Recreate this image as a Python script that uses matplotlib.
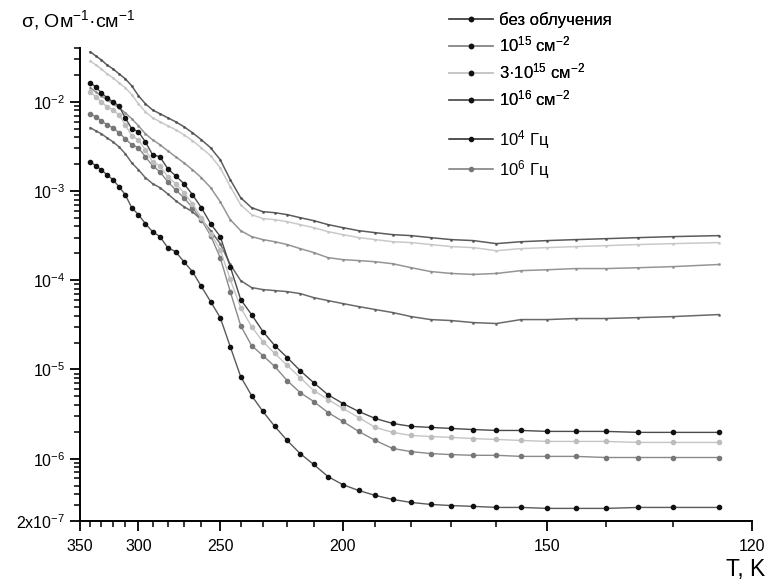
import numpy as np
import matplotlib.pyplot as plt
import matplotlib as mpl
from matplotlib.lines import Line2D

mpl.rcParams.update({
    "font.family": ["Liberation Sans", "DejaVu Sans"],
    "mathtext.default": "regular",
    "font.size": 11,
    "axes.linewidth": 1.4,
    "xtick.direction": "out", "ytick.direction": "out",
})

# температура, К
T = [340, 335, 330, 325, 320, 315, 310, 305, 300, 295, 290, 285, 280, 275, 270,
     265, 260, 255, 250, 245, 240, 235, 230, 225, 220, 215, 210, 205, 200, 195,
     190, 185, 180, 175, 170, 165, 160, 155, 150, 145, 140, 135, 130, 124]

# 10^6 Гц
s_hf_0 = [3.63e-2, 3.27e-2, 2.95e-2, 2.59e-2, 2.34e-2, 2.06e-2, 1.81e-2, 1.51e-2, 1.17e-2, 9.5e-3,
          8.1e-3, 7.34e-3, 6.62e-3, 5.97e-3, 5.25e-3, 4.50e-3, 3.75e-3, 3.05e-3, 2.24e-3, 1.34e-3,
          8.4e-4, 6.5e-4, 5.86e-4, 5.71e-4, 5.43e-4, 5.02e-4, 4.65e-4, 4.20e-4, 3.88e-4, 3.59e-4,
          3.41e-4, 3.24e-4, 3.16e-4, 3.00e-4, 2.85e-4, 2.78e-4, 2.57e-4, 2.70e-4, 2.78e-4, 2.85e-4,
          2.92e-4, 3.00e-4, 3.08e-4, 3.16e-4]
s_hf_3e15 = [2.87e-2, 2.59e-2, 2.34e-2, 2.06e-2, 1.86e-2, 1.63e-2, 1.44e-2, 1.20e-2, 9.5e-3, 7.73e-3,
             6.62e-3, 5.97e-3, 5.39e-3, 4.86e-3, 4.27e-3, 3.66e-3, 3.05e-3, 2.48e-3, 1.82e-3, 1.12e-3,
             7.0e-4, 5.43e-4, 4.90e-4, 4.77e-4, 4.53e-4, 4.20e-4, 3.88e-4, 3.50e-4, 3.24e-4, 3.00e-4,
             2.85e-4, 2.70e-4, 2.64e-4, 2.51e-4, 2.38e-4, 2.32e-4, 2.14e-4, 2.26e-4, 2.32e-4, 2.38e-4,
             2.44e-4, 2.51e-4, 2.57e-4, 2.64e-4]
s_hf_1e15 = [1.44e-2, 1.29e-2, 1.17e-2, 1.05e-2, 9.5e-3, 8.57e-3, 7.53e-3, 6.45e-3, 5.39e-3, 4.38e-3,
             3.75e-3, 3.30e-3, 2.83e-3, 2.42e-3, 2.07e-3, 1.73e-3, 1.41e-3, 1.09e-3, 7.59e-4, 4.77e-4,
             3.59e-4, 3.08e-4, 2.85e-4, 2.70e-4, 2.51e-4, 2.26e-4, 2.04e-4, 1.79e-4, 1.70e-4, 1.66e-4,
             1.61e-4, 1.53e-4, 1.38e-4, 1.25e-4, 1.19e-4, 1.16e-4, 1.19e-4, 1.28e-4, 1.31e-4, 1.35e-4,
             1.35e-4, 1.38e-4, 1.42e-4, 1.50e-4]
s_hf_1e16 = [5.12e-3, 4.73e-3, 4.38e-3, 3.95e-3, 3.56e-3, 3.13e-3, 2.62e-3, 2.07e-3, 1.73e-3, 1.41e-3,
             1.21e-3, 1.09e-3, 9.3e-4, 7.8e-4, 6.67e-4, 5.86e-4, 4.77e-4, 3.59e-4, 2.57e-4, 1.50e-4,
             9.9e-5, 8.27e-5, 7.85e-5, 7.65e-5, 7.45e-5, 7.08e-5, 6.38e-5, 5.91e-5, 5.47e-5, 5.06e-5,
             4.69e-5, 4.34e-5, 3.91e-5, 3.62e-5, 3.53e-5, 3.35e-5, 3.27e-5, 3.62e-5, 3.62e-5, 3.72e-5,
             3.72e-5, 3.81e-5, 3.91e-5, 4.12e-5]

# 10^4 Гц
s_lf_0 = [1.63e-2, 1.47e-2, 1.26e-2, 1.11e-2, 1.00e-2, 9.0e-3, 6.6e-3, 4.99e-3, 4.61e-3, 3.56e-3,
          2.55e-3, 2.42e-3, 1.78e-3, 1.48e-3, 1.21e-3, 9.1e-4, 6.5e-4, 4.31e-4, 3.08e-4, 1.42e-4,
          6.07e-5, 4.12e-5, 2.66e-5, 1.85e-5, 1.36e-5, 9.7e-6, 7.1e-6, 5.2e-6, 4.15e-6, 3.38e-6,
          2.82e-6, 2.48e-6, 2.30e-6, 2.24e-6, 2.18e-6, 2.12e-6, 2.07e-6, 2.07e-6, 2.02e-6, 2.02e-6,
          2.02e-6, 1.97e-6, 1.97e-6, 1.97e-6]
s_lf_3e15 = [1.29e-2, 1.14e-2, 1.00e-2, 8.8e-3, 8.1e-3, 7.15e-3, 5.52e-3, 4.16e-3, 3.75e-3, 2.90e-3,
             2.13e-3, 1.92e-3, 1.45e-3, 1.21e-3, 9.6e-4, 7.2e-4, 5.02e-4, 3.33e-4, 2.20e-4, 1.02e-4,
             4.93e-5, 3.02e-5, 2.05e-5, 1.51e-5, 1.11e-5, 8.1e-6, 5.8e-6, 4.6e-6, 3.65e-6, 2.89e-6,
             2.24e-6, 1.97e-6, 1.82e-6, 1.77e-6, 1.73e-6, 1.68e-6, 1.64e-6, 1.60e-6, 1.56e-6, 1.56e-6,
             1.56e-6, 1.52e-6, 1.52e-6, 1.52e-6]
s_lf_1e15 = [7.34e-3, 6.79e-3, 6.12e-3, 5.52e-3, 5.12e-3, 4.50e-3, 3.85e-3, 3.30e-3, 3.05e-3, 2.42e-3,
             1.92e-3, 1.64e-3, 1.27e-3, 1.03e-3, 8.4e-4, 6.5e-4, 4.77e-4, 3.16e-4, 1.79e-4, 7.45e-5,
             3.10e-5, 1.85e-5, 1.43e-5, 1.08e-5, 7.5e-6, 5.5e-6, 4.37e-6, 3.29e-6, 2.61e-6, 2.02e-6,
             1.60e-6, 1.30e-6, 1.20e-6, 1.14e-6, 1.11e-6, 1.09e-6, 1.09e-6, 1.06e-6, 1.06e-6, 1.06e-6,
             1.03e-6, 1.03e-6, 1.03e-6, 1.03e-6]
s_lf_1e16 = [2.13e-3, 1.92e-3, 1.73e-3, 1.52e-3, 1.34e-3, 1.12e-3, 9.1e-4, 6.5e-4, 5.43e-4, 4.31e-4,
             3.50e-4, 3.08e-4, 2.32e-4, 2.09e-4, 1.61e-4, 1.25e-4, 8.5e-5, 5.76e-5, 3.81e-5, 1.80e-5,
             8.3e-6, 5.1e-6, 3.38e-6, 2.30e-6, 1.60e-6, 1.14e-6, 8.6e-7, 6.3e-7, 5.1e-7, 4.4e-7,
             3.87e-7, 3.49e-7, 3.23e-7, 3.07e-7, 2.98e-7, 2.92e-7, 2.84e-7, 2.84e-7, 2.77e-7, 2.77e-7,
             2.77e-7, 2.84e-7, 2.84e-7, 2.84e-7]

doses = ['без облучения', '10$^{15}$ см$^{-2}$', '3·10$^{15}$ см$^{-2}$', '10$^{16}$ см$^{-2}$']
dose_colors = ['#4a4a4a', '#8a8a8a', '#c4c4c4', '#5a5a5a']
freqs = ['10$^{4}$ Гц', '10$^{6}$ Гц']

x_ticks = [350, 300, 250, 200, 150, 120]
y_ticks = [2e-7, 1e-6, 1e-5, 1e-4, 1e-3, 1e-2]
y_labels = ['2x10$^{-7}$', '10$^{-6}$', '10$^{-5}$', '10$^{-4}$', '10$^{-3}$', '10$^{-2}$']

fig = plt.figure(figsize=(7.69, 5.87), dpi=100)
ax = fig.add_axes([0.104, 0.1124, 0.8739, 0.8058])
ax.set_yscale('log')

# ось абсцисс линейна по 1000/T, подписи в кельвинах
inv = 1000.0 / np.array(T, dtype=float)

hf = [s_hf_0, s_hf_1e15, s_hf_3e15, s_hf_1e16]
lf = [s_lf_0, s_lf_1e15, s_lf_3e15, s_lf_1e16]
lf_marker_colors = ['#111111', '#777777', '#bdbdbd', '#111111']

for s, c in zip(hf, dose_colors):
    ax.plot(inv, s, color=c, lw=1.1, marker='o', ms=1.6, mfc=c, mec=c, mew=0.3, alpha=0.9)
for s, c, mc in zip(lf, dose_colors, lf_marker_colors):
    ax.plot(inv, s, color=c, lw=1.0, marker='o', ms=3.0, mfc=mc, mec=mc)

ax.set_xlim(1000 / 350, 1000 / 120)
ax.set_ylim(2e-7, 4e-2)
ax.set_xticks([1000 / t for t in x_ticks])
ax.set_xticklabels([str(v) for v in x_ticks])
ax.set_xticks([1000 / t for t in range(130, 350, 10) if t not in x_ticks], minor=True)
ax.set_yticks(y_ticks)
ax.set_yticklabels(y_labels)
ax.yaxis.set_minor_locator(mpl.ticker.LogLocator(base=10, subs=np.arange(2, 10)))
ax.yaxis.set_minor_formatter(mpl.ticker.NullFormatter())
ax.tick_params(which='major', length=7, width=1.3, labelsize=11.5)
ax.tick_params(which='minor', length=4, width=1.1)
ax.tick_params(axis='x', pad=6)
ax.spines['top'].set_visible(False)
ax.spines['right'].set_visible(False)

fig.text(0.027, 0.965, 'σ, Ом$^{-1}$·см$^{-1}$', fontsize=14, va='center', ha='left')
fig.text(0.995, 0.03, 'T, K', fontsize=16.5, va='center', ha='right')

h_dose = [Line2D([], [], color=c, lw=1.1, marker='o', ms=3, mfc='#111111', mec='#111111')
          for c in dose_colors]
h_freq = [Line2D([], [], color='#222222', lw=1.1, marker='o', ms=3, mfc='#111111', mec='#111111'),
          Line2D([], [], color='#777777', lw=1.1, marker='o', ms=3, mfc='#777777', mec='#777777')]

leg1 = fig.legend(h_dose, doses, loc='upper left', bbox_to_anchor=(0.565, 1.005), frameon=False,
                  fontsize=12, handlelength=2.6, handletextpad=0.4, labelspacing=0.42)
fig.add_artist(leg1)
fig.legend(h_freq, freqs, loc='upper left', bbox_to_anchor=(0.565, 0.808), frameon=False,
           fontsize=12, handlelength=2.6, handletextpad=0.4, labelspacing=0.42)

plt.savefig('out.png', dpi=100)
